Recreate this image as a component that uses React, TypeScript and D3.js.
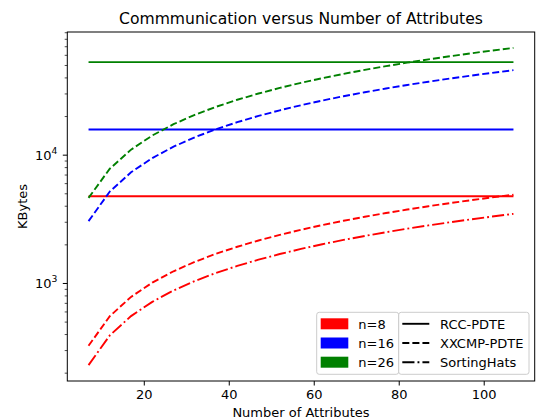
import * as React from 'react';
import {Component} from 'react';
import * as d3 from 'd3';

// number of attributes (x)
const attributes = [7, 12, 17, 22, 27, 32, 37, 42, 47, 52, 57, 62, 67, 72, 77, 82, 87, 92, 97, 102, 107];

// RCC-PDTE is flat, one value per n
const sizes = ['n=8', 'n=16', 'n=26'];
const sizeColors = ['#ff0000', '#0000ff', '#008000'];
const rccPdte = [4780, 15850, 53100];

const xxcmpN8 = [327, 556, 786, 1015, 1245, 1474, 1704, 1933, 2163, 2392, 2622, 2851, 3081, 3310, 3540, 3769, 3999, 4228, 4458, 4687, 4917];
const xxcmpN16 = [3060, 5205, 7350, 9495, 11640, 13785, 15930, 18075, 20220, 22365, 24510, 26655, 28800, 30945, 33090, 35235, 37380, 39525, 41670, 43815, 45960];
const xxcmpN26 = [4645, 7842, 11040, 14237, 17435, 20632, 23830, 27027, 30225, 33422, 36620, 39817, 43015, 46212, 49410, 52607, 55805, 59002, 62200, 65397, 68595];
const sortingHatsN8 = [231, 394, 557, 719, 882, 1045, 1208, 1371, 1533, 1696, 1859, 2022, 2185, 2347, 2510, 2673, 2836, 2999, 3161, 3324, 3487];

const methods = ['RCC-PDTE', 'XXCMP-PDTE', 'SortingHats'];
const xTicks = [20, 40, 60, 80, 100];
const yMajor = [1000, 10000];

const FONT = '"DejaVu Sans", sans-serif';
const FS = 13;
const LW = 1.9;
const DASH = `${3.7 * LW},${1.6 * LW}`;
const DASHDOT = `${6.4 * LW},${1.6 * LW},${1 * LW},${1.6 * LW}`;
const methodDash = ['none', DASH, DASHDOT];

class Chart extends Component {
    ref = React.createRef<HTMLDivElement>();

    componentDidMount() {
        this.drawChart();
    }

    drawChart() {
        const width = 537, height = 420;
        const left = 67.3, right = 534.7, top = 32, bottom = 381;

        d3.select(this.ref.current).selectAll('*').remove();

        const svg = d3.select(this.ref.current)
            .append('svg')
            .attr('width', width)
            .attr('height', height)
            .style('position', 'absolute')
            .style('left', '0px')
            .style('top', '0px')
            .style('font-family', FONT);

        svg.append('rect').attr('width', width).attr('height', height).attr('fill', '#fff');

        // matplotlib-like 5% margins
        const xMin = d3.min(attributes)!, xMax = d3.max(attributes)!;
        const xPad = (xMax - xMin) * 0.05;
        const x = d3.scaleLinear().domain([xMin - xPad, xMax + xPad]).range([left, right]);

        const all = [...rccPdte, ...xxcmpN8, ...xxcmpN16, ...xxcmpN26, ...sortingHatsN8];
        const lMin = Math.log10(d3.min(all)!), lMax = Math.log10(d3.max(all)!);
        const lPad = (lMax - lMin) * 0.05;
        const y = d3.scaleLog().domain([10 ** (lMin - lPad), 10 ** (lMax + lPad)]).range([bottom, top]);

        const line = d3.line<[number, number]>().x(d => x(d[0])).y(d => y(d[1]));

        const series = [
            {vals: attributes.map(() => rccPdte[0]), color: sizeColors[0], dash: methodDash[0]},
            {vals: attributes.map(() => rccPdte[1]), color: sizeColors[1], dash: methodDash[0]},
            {vals: attributes.map(() => rccPdte[2]), color: sizeColors[2], dash: methodDash[0]},
            {vals: xxcmpN8, color: sizeColors[0], dash: methodDash[1]},
            {vals: xxcmpN16, color: sizeColors[1], dash: methodDash[1]},
            {vals: xxcmpN26, color: sizeColors[2], dash: methodDash[1]},
            {vals: sortingHatsN8, color: sizeColors[0], dash: methodDash[2]},
        ];

        const plot = svg.append('g');
        series.forEach(s => {
            plot.append('path')
                .datum(attributes.map((a, i) => [a, s.vals[i]] as [number, number]))
                .attr('d', line)
                .attr('fill', 'none')
                .attr('stroke', s.color)
                .attr('stroke-width', LW)
                .attr('stroke-dasharray', s.dash);
        });

        // x axis
        const xAxis = svg.append('g').attr('transform', `translate(0, ${bottom})`)
            .call(d3.axisBottom(x).tickValues(xTicks).tickSize(4.5).tickPadding(4.6));
        xAxis.select('.domain').remove();
        xAxis.selectAll('line').attr('stroke', '#000').attr('stroke-width', 1);
        xAxis.selectAll('text').attr('font-size', FS).attr('font-family', FONT).attr('fill', '#000');

        // y axis: minor ticks
        const [d0, d1] = y.domain();
        const minor: number[] = [];
        for (let e = 1; e <= 5; e++) {
            for (let m = 2; m <= 9; m++) {
                const v = m * 10 ** e;
                if (v >= d0 && v <= d1) minor.push(v);
            }
        }
        svg.append('g').selectAll('line').data(minor).enter().append('line')
            .attr('x1', left - 2.6).attr('x2', left)
            .attr('y1', d => y(d)).attr('y2', d => y(d))
            .attr('stroke', '#000').attr('stroke-width', 0.7);

        const yMaj = svg.append('g');
        yMaj.selectAll('line').data(yMajor).enter().append('line')
            .attr('x1', left - 4.5).attr('x2', left)
            .attr('y1', d => y(d)).attr('y2', d => y(d))
            .attr('stroke', '#000').attr('stroke-width', 1);
        const yl = yMaj.selectAll('text.lbl').data(yMajor).enter().append('text')
            .attr('x', left - 10)
            .attr('y', d => y(d) + 5)
            .attr('text-anchor', 'end')
            .attr('font-size', FS)
            .attr('fill', '#000');
        yl.append('tspan').text('10');
        yl.append('tspan').attr('font-size', 9.2).attr('dy', -6.5).text(d => String(Math.round(Math.log10(d))));

        // frame
        svg.append('rect')
            .attr('x', left).attr('y', top)
            .attr('width', right - left).attr('height', bottom - top)
            .attr('fill', 'none').attr('stroke', '#000').attr('stroke-width', 1);

        // labels
        svg.append('text')
            .attr('x', (left + right) / 2).attr('y', 24)
            .attr('text-anchor', 'middle').attr('font-size', 15.6)
            .text('Commmunication versus Number of Attributes');
        svg.append('text')
            .attr('x', (left + right) / 2).attr('y', 417)
            .attr('text-anchor', 'middle').attr('font-size', FS)
            .text('Number of Attributes');
        svg.append('text')
            .attr('transform', `translate(27, ${(top + bottom) / 2}) rotate(-90)`)
            .attr('text-anchor', 'middle').attr('font-size', FS)
            .text('KBytes');

        // legends
        const legTop = 312.3, legBot = 374.3, rowH = 19.2;
        const leg1 = svg.append('g');
        leg1.append('rect')
            .attr('x', 316.7).attr('y', legTop).attr('width', 398.7 - 316.7).attr('height', legBot - legTop)
            .attr('rx', 2.5).attr('fill', 'rgba(255,255,255,0.8)').attr('stroke', '#cccccc').attr('stroke-width', 1);
        sizes.forEach((s, i) => {
            const cy = legTop + 11.5 + i * rowH;
            leg1.append('rect').attr('x', 320.7).attr('y', cy - 5.5).attr('width', 27.6).attr('height', 11)
                .attr('fill', sizeColors[i]);
            leg1.append('text').attr('x', 358.3).attr('y', cy + 4.7).attr('font-size', FS).text(s);
        });

        const leg2 = svg.append('g');
        leg2.append('rect')
            .attr('x', 398.7).attr('y', legTop).attr('width', 529 - 398.7).attr('height', legBot - legTop)
            .attr('rx', 2.5).attr('fill', 'rgba(255,255,255,0.8)').attr('stroke', '#cccccc').attr('stroke-width', 1);
        methods.forEach((m, i) => {
            const cy = legTop + 11.5 + i * rowH;
            leg2.append('line').attr('x1', 402.3).attr('x2', 429.3).attr('y1', cy).attr('y2', cy)
                .attr('stroke', '#000').attr('stroke-width', LW).attr('stroke-dasharray', methodDash[i]);
            leg2.append('text').attr('x', 440).attr('y', cy + 4.7).attr('font-size', FS).text(m);
        });
    }

    render(): React.ReactNode {
        return <div ref={this.ref} />;
    }
}

export default function App() {
    return <Chart />;
}
